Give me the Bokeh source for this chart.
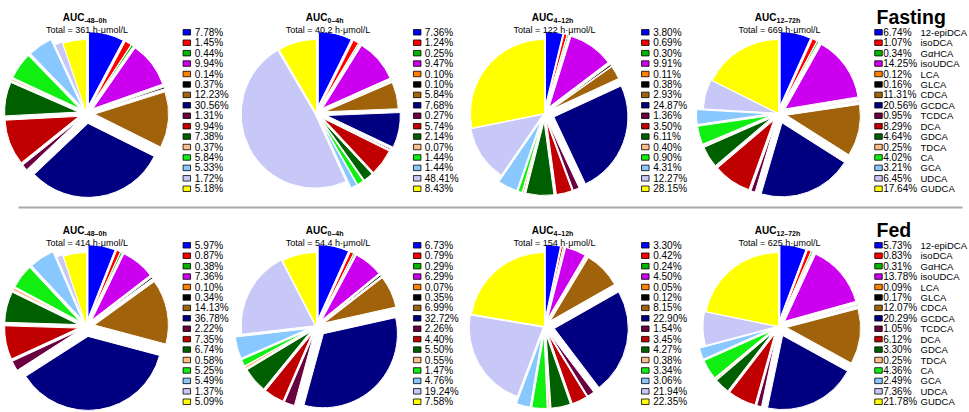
import numpy as np
from bokeh.plotting import figure
from bokeh.models import Range1d, ColumnDataSource
from bokeh.core.properties import value
from bokeh.embed import file_html
from bokeh.resources import INLINE

# ---------------- data ----------------
acids = ["12-epiDCA", "isoDCA", "G\u03b1HCA", "isoUDCA", "LCA", "GLCA", "CDCA", "GCDCA",
         "TCDCA", "DCA", "GDCA", "TDCA", "CA", "GCA", "UDCA", "GUDCA"]
colors = ["#0000FF", "#FF0000", "#00B400", "#CC00EE", "#FF8000", "#000000", "#A0620A", "#000080",
          "#6A0040", "#C00000", "#006000", "#FFBB88", "#11EE11", "#88C8FF", "#C8C8F8", "#FFFF00"]

periods = ["-48\u20130h", "0\u20134h", "4\u201312h", "12\u201372h"]
fasting_totals = ["361", "40.2", "122", "669"]
fed_totals = ["414", "54.4", "154", "625"]

fasting_m48_0 = [7.78, 1.45, 0.44, 9.94, 0.14, 0.37, 12.23, 30.56, 1.31, 9.94, 7.38, 0.37, 5.84, 5.33, 1.72, 5.18]
fasting_0_4 = [7.36, 1.24, 0.25, 9.47, 0.10, 0.10, 5.84, 7.68, 0.27, 5.74, 2.14, 0.07, 1.44, 1.44, 48.41, 8.43]
fasting_4_12 = [3.80, 0.69, 0.30, 9.91, 0.11, 0.38, 2.93, 24.87, 1.36, 3.50, 6.11, 0.40, 0.90, 4.31, 12.27, 28.15]
fasting_12_72 = [6.74, 1.07, 0.34, 14.25, 0.12, 0.16, 11.31, 20.56, 0.95, 8.29, 4.64, 0.25, 4.02, 3.21, 6.45, 17.64]

fed_m48_0 = [5.97, 0.87, 0.38, 7.36, 0.10, 0.34, 14.13, 36.78, 2.22, 7.35, 6.74, 0.58, 5.25, 5.49, 1.37, 5.09]
fed_0_4 = [6.73, 0.79, 0.29, 6.29, 0.07, 0.35, 6.99, 32.72, 2.26, 4.40, 5.50, 0.55, 1.47, 4.76, 19.24, 7.58]
fed_4_12 = [3.30, 0.42, 0.24, 4.50, 0.05, 0.12, 8.15, 22.90, 1.54, 3.45, 4.27, 0.38, 3.34, 3.06, 21.94, 22.35]
fed_12_72 = [5.73, 0.83, 0.31, 13.78, 0.09, 0.17, 12.07, 20.29, 1.05, 6.12, 3.30, 0.25, 4.36, 2.49, 7.36, 21.78]

row_names = ["Fasting", "Fed"]
row_values = [[fasting_m48_0, fasting_0_4, fasting_4_12, fasting_12_72],
              [fed_m48_0, fed_0_4, fed_4_12, fed_12_72]]
row_totals = [fasting_totals, fed_totals]

# ---------------- layout / style ----------------
FONT = value("Liberation Sans")
W, H = 969, 412
def Y(y):
    return H - y

pie_cx = [86, 316, 544, 778]
pie_cy = 113
R = 74
explode = [8, 8, 8, 8, 8, 8, 8, 10, 8, 8, 8, 8, 8, 8, 1.5, 0]
title_split_x = [84, 327, 553, 776]
title_center_x = [86.5, 327.5, 554, 779]
legend_box_x = [186.3, 416.7, 644.8, 878]
legend_text_x = [194.3, 424.3, 652.7, 882.7]
name_x = 920
legend_y0 = 31.8
legend_dy = 10.43
row_offset = [0, 213]

p = figure(width=W, height=H, x_range=Range1d(0, W), y_range=Range1d(0, H),
           x_axis_type=None, y_axis_type=None, toolbar_location=None, output_backend="svg",
           min_border=0, outline_line_color=None, background_fill_color="white")

for r in range(2):
    off = row_offset[r]
    for k in range(4):
        vals = np.array(row_values[r][k], dtype=float)
        frac = vals / vals.sum()
        f1 = np.cumsum(frac)
        f0 = f1 - frac
        start = np.pi / 2 - 2 * np.pi * f1
        end = np.pi / 2 - 2 * np.pi * f0
        mid = (start + end) / 2
        ex = np.array(explode, dtype=float)
        cx = pie_cx[k] + ex * np.cos(mid)
        cy = Y(pie_cy + off) + ex * np.sin(mid)
        src = ColumnDataSource(dict(x=cx, y=cy, s=start, e=end, c=colors))
        p.wedge(x="x", y="y", radius=R, start_angle="s", end_angle="e", fill_color="c",
                line_color="white", line_width=1, source=src)

        # titles
        p.text(x=[title_split_x[k]], y=[Y(16.7 + off)], text=["AUC"], text_font=FONT,
               text_font_size="10px", text_font_style="bold", text_align="right",
               text_baseline="alphabetic", text_color="black")
        p.text(x=[title_split_x[k]], y=[Y(19.5 + off)], text=[periods[k]], text_font=FONT,
               text_font_size="7px", text_font_style="bold", text_align="left",
               text_baseline="alphabetic", text_color="black")
        p.text(x=[title_center_x[k]], y=[Y(29.3 + off)],
               text=["Total = %s h\u00b7\u03bcmol/L" % row_totals[r][k]], text_font=FONT,
               text_font_size="9px", text_align="center", text_baseline="alphabetic",
               text_color="black")

        # legend
        ly = [Y(legend_y0 + off + i * legend_dy) for i in range(len(acids))]
        p.rect(x=[legend_box_x[k]] * len(acids), y=ly, width=7.5, height=5.5,
               fill_color=colors, line_color="black", line_width=0.8)
        labels = [("%.2f%%" % v) if v >= 10 else (" %.2f%%" % v) for v in vals]
        p.text(x=[legend_text_x[k]] * len(acids), y=ly, text=labels, text_font=FONT,
               text_font_size="10px", text_align="left", text_baseline="middle",
               text_color="black")
        if k == 3:
            p.text(x=[name_x] * len(acids), y=ly, text=acids, text_font=FONT,
                   text_font_size="9.5px", text_align="left", text_baseline="middle",
                   text_color="black")

    p.text(x=[876], y=[Y(16 + off)], text=[row_names[r]], text_font=FONT,
           text_font_size="19.5px", text_font_style="bold", text_align="left",
           text_baseline="alphabetic", text_color="black")

p.line(x=[18, 962], y=[Y(207), Y(207)], line_color="#AAAAAA", line_width=2)

open("out.html", "w").write(file_html(p, INLINE))
